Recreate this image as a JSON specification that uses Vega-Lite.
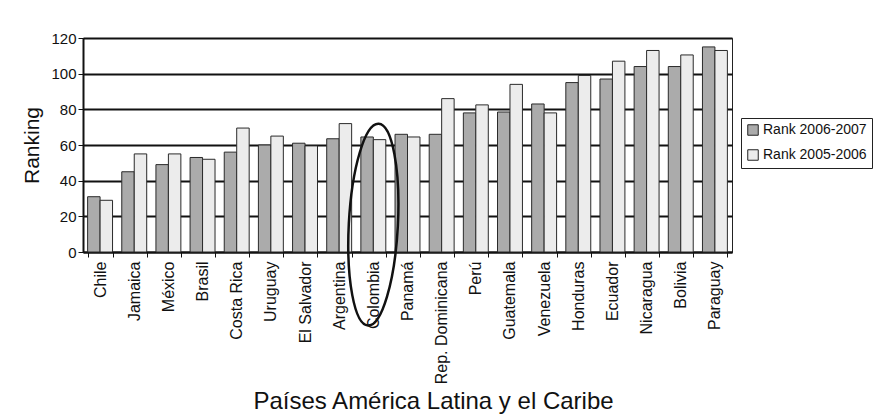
{
  "$schema": "https://vega.github.io/schema/vega-lite/v6.json",
  "width": 649,
  "height": 214,
  "autosize": {"type": "none"},
  "padding": {"left": 83, "top": 38, "right": 147, "bottom": 163},
  "background": "white",
  "datasets": {
    "bars": [
      {"pais": "Chile", "serie": "Rank 2006-2007", "valor": 31},
      {"pais": "Chile", "serie": "Rank 2005-2006", "valor": 29},
      {"pais": "Jamaica", "serie": "Rank 2006-2007", "valor": 45},
      {"pais": "Jamaica", "serie": "Rank 2005-2006", "valor": 55},
      {"pais": "México", "serie": "Rank 2006-2007", "valor": 49},
      {"pais": "México", "serie": "Rank 2005-2006", "valor": 55},
      {"pais": "Brasil", "serie": "Rank 2006-2007", "valor": 53},
      {"pais": "Brasil", "serie": "Rank 2005-2006", "valor": 52},
      {"pais": "Costa Rica", "serie": "Rank 2006-2007", "valor": 56},
      {"pais": "Costa Rica", "serie": "Rank 2005-2006", "valor": 69.5},
      {"pais": "Uruguay", "serie": "Rank 2006-2007", "valor": 60},
      {"pais": "Uruguay", "serie": "Rank 2005-2006", "valor": 65},
      {"pais": "El Salvador", "serie": "Rank 2006-2007", "valor": 61},
      {"pais": "El Salvador", "serie": "Rank 2005-2006", "valor": 59.5},
      {"pais": "Argentina", "serie": "Rank 2006-2007", "valor": 63.5},
      {"pais": "Argentina", "serie": "Rank 2005-2006", "valor": 72},
      {"pais": "Colombia", "serie": "Rank 2006-2007", "valor": 64.5},
      {"pais": "Colombia", "serie": "Rank 2005-2006", "valor": 63},
      {"pais": "Panamá", "serie": "Rank 2006-2007", "valor": 66},
      {"pais": "Panamá", "serie": "Rank 2005-2006", "valor": 64.5},
      {"pais": "Rep. Dominicana", "serie": "Rank 2006-2007", "valor": 66},
      {"pais": "Rep. Dominicana", "serie": "Rank 2005-2006", "valor": 86},
      {"pais": "Perú", "serie": "Rank 2006-2007", "valor": 78},
      {"pais": "Perú", "serie": "Rank 2005-2006", "valor": 82.5},
      {"pais": "Guatemala", "serie": "Rank 2006-2007", "valor": 78.5},
      {"pais": "Guatemala", "serie": "Rank 2005-2006", "valor": 94},
      {"pais": "Venezuela", "serie": "Rank 2006-2007", "valor": 83},
      {"pais": "Venezuela", "serie": "Rank 2005-2006", "valor": 78},
      {"pais": "Honduras", "serie": "Rank 2006-2007", "valor": 95},
      {"pais": "Honduras", "serie": "Rank 2005-2006", "valor": 99},
      {"pais": "Ecuador", "serie": "Rank 2006-2007", "valor": 97},
      {"pais": "Ecuador", "serie": "Rank 2005-2006", "valor": 107},
      {"pais": "Nicaragua", "serie": "Rank 2006-2007", "valor": 104},
      {"pais": "Nicaragua", "serie": "Rank 2005-2006", "valor": 113},
      {"pais": "Bolivia", "serie": "Rank 2006-2007", "valor": 104},
      {"pais": "Bolivia", "serie": "Rank 2005-2006", "valor": 110.5},
      {"pais": "Paraguay", "serie": "Rank 2006-2007", "valor": 115},
      {"pais": "Paraguay", "serie": "Rank 2005-2006", "valor": 113}
    ],
    "marca": [
      {"pais": "Colombia", "valor": 15.3}
    ]
  },
  "config": {
    "font": "Liberation Sans",
    "view": {"stroke": "#222", "strokeWidth": 1},
    "axis": {
      "labelColor": "#111",
      "titleColor": "#111",
      "titleFontWeight": "normal",
      "domainColor": "#111",
      "tickColor": "#111"
    },
    "axisX": {"labelFontSize": 16},
    "axisY": {"labelFontSize": 15}
  },
  "encoding": {
    "x": {
      "field": "pais",
      "type": "nominal",
      "sort": null,
      "scale": {"paddingInner": 0.27, "paddingOuter": 0.135},
      "axis": {
        "title": "Países América Latina y el Caribe",
        "titleFontSize": 24,
        "titleX": 350,
        "titlePadding": 6,
        "labelAngle": -90,
        "labelFontSize": 16,
        "labelPadding": 4,
        "tickBand": "extent",
        "tickSize": 5,
        "tickWidth": 1,
        "domainWidth": 2
      }
    },
    "y": {
      "field": "valor",
      "type": "quantitative",
      "scale": {"domain": [0, 120], "nice": false},
      "axis": {
        "title": "Ranking",
        "titleFontSize": 21,
        "titlePadding": 8,
        "values": [0, 20, 40, 60, 80, 100, 120],
        "labelOverlap": false,
        "labelFontSize": 15,
        "labelPadding": 2,
        "tickSize": 5,
        "domainWidth": 2,
        "grid": true,
        "gridColor": "#111",
        "gridWidth": 2,
        "gridOpacity": 1
      }
    }
  },
  "layer": [
    {
      "data": {"name": "bars"},
      "mark": {"type": "bar", "stroke": "#2a2a2a", "strokeWidth": 1},
      "encoding": {
        "xOffset": {
          "field": "serie",
          "type": "nominal",
          "sort": ["Rank 2006-2007", "Rank 2005-2006"],
          "scale": {"paddingInner": 0, "paddingOuter": 0}
        },
        "color": {
          "field": "serie",
          "type": "nominal",
          "sort": ["Rank 2006-2007", "Rank 2005-2006"],
          "scale": {"domain": ["Rank 2006-2007", "Rank 2005-2006"], "range": ["#ababab", "#ececec"]},
          "legend": {
            "title": null,
            "orient": "none",
            "legendX": 658,
            "legendY": 80,
            "strokeColor": "#222",
            "fillColor": "white",
            "padding": 5,
            "symbolType": "square",
            "symbolSize": 110,
            "symbolStrokeColor": "#222",
            "symbolStrokeWidth": 1,
            "labelOffset": 3,
            "labelFontSize": 14,
            "labelColor": "#111",
            "rowPadding": 9
          }
        }
      }
    },
    {
      "data": {"name": "marca"},
      "mark": {
        "type": "point",
        "shape": "M 0 -1 A 0.243 1 0 1 1 0 1 A 0.243 1 0 1 1 0 -1 Z",
        "size": 40804,
        "angle": 3,
        "filled": false,
        "stroke": "#111",
        "strokeWidth": 2.5,
        "opacity": 1
      }
    }
  ]
}
